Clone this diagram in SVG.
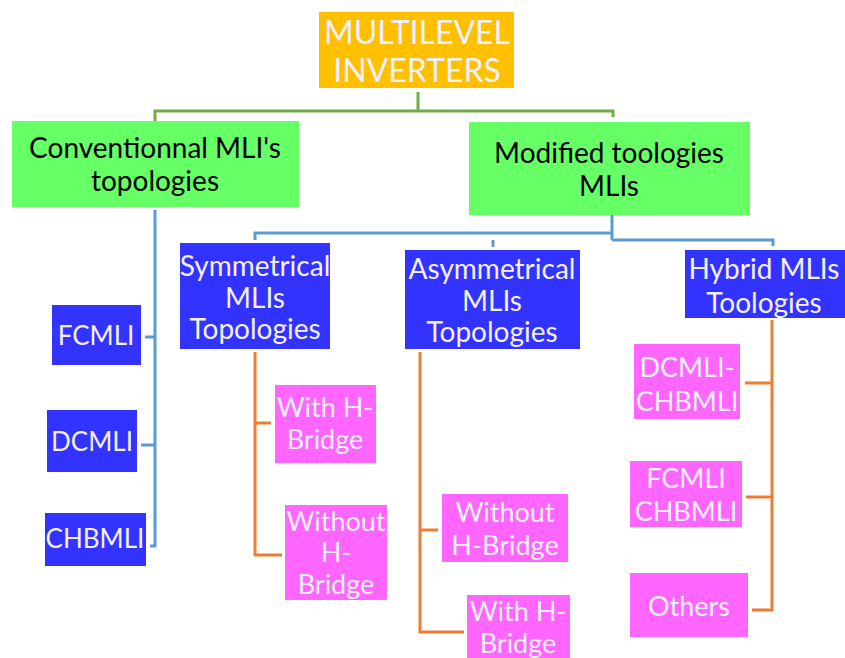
<svg xmlns="http://www.w3.org/2000/svg" width="845" height="658" viewBox="0 0 845 658">
<style>
text{font-family:Lato,"Open Sans","Liberation Sans",sans-serif;text-anchor:middle;dominant-baseline:central}
.w{fill:#F4F0FF}
.k{fill:#000}
.b{font-size:28px}
.p{font-size:27px}
.g{font-size:28px}
.gl{fill:none;stroke:#70AD47;stroke-width:3}
.bl{fill:none;stroke:#5B9BD5;stroke-width:3}
.ol{fill:none;stroke:#ED7D31;stroke-width:3}
.blue{fill:#3333FF}
.pink{fill:#FF66FF}
.green{fill:#66FF66}
</style>
<rect width="845" height="658" fill="#fff"/>
<g id="connectors">
<path class="gl" d="M418 92V111H155V122M418 111H613V117"/>
<path class="bl" d="M612 215V240M612 233H255V240M612 240H773V246M493 240V247"/>
<path class="bl" d="M155 210V546H150M155 337H145M155 445H141"/>
<path class="ol" d="M255 352V555H282M255 423H271"/>
<path class="ol" d="M420 352V632H464M420 530H438"/>
<path class="ol" d="M772 320V610H752M772 383H745M772 497H746"/>
</g>
<g id="root"><rect x="319" y="12" width="195" height="76" fill="#FFC000"/><text class="w" x="417" y="31" font-size="32">MULTILEVEL</text><text class="w" x="417" y="69" font-size="32">INVERTERS</text></g>
<g id="conv"><rect class="green" x="12" y="121" width="287" height="86"/><text class="k g" x="155" y="147">Conventionnal MLI's</text><text class="k g" x="155" y="180">topologies</text></g>
<g id="mod"><rect class="green" x="469" y="122" width="281" height="93"/><text class="k g" x="609" y="152">Modified toologies</text><text class="k g" x="609" y="185">MLIs</text></g>
<g id="fcmli"><rect class="blue" x="52" y="305" width="89" height="60"/><text class="w" x="96" y="335" font-size="26">FCMLI</text></g>
<g id="dcmli"><rect class="blue" x="47" y="410" width="90" height="62"/><text class="w" x="92" y="441" font-size="26">DCMLI</text></g>
<g id="chbmli"><rect class="blue" x="45" y="513" width="101" height="53"/><text class="w" x="95" y="538" font-size="26">CHBMLI</text></g>
<g id="sym"><rect class="blue" x="180" y="243" width="150" height="106"/><text class="w b" x="255" y="265">Symmetrical</text><text class="w b" x="255" y="297">MLIs</text><text class="w b" x="255" y="328">Topologies</text></g>
<g id="asym"><rect class="blue" x="405" y="250" width="175" height="99"/><text class="w b" x="492" y="268">Asymmetrical</text><text class="w b" x="492" y="300">MLIs</text><text class="w b" x="492" y="331">Topologies</text></g>
<g id="hybrid"><rect class="blue" x="685" y="250" width="160" height="68"/><text class="w b" x="764" y="268">Hybrid MLIs</text><text class="w b" x="764" y="302">Toologies</text></g>
<g id="sym-with"><rect class="pink" x="275" y="385" width="101" height="78"/><text class="w p" x="325" y="406">With H-</text><text class="w p" x="325" y="438">Bridge</text></g>
<g id="sym-without"><rect class="pink" x="285" y="505" width="102" height="95"/><text class="w p" x="336" y="520">Without</text><text class="w p" x="336" y="551">H-</text><text class="w p" x="336" y="583">Bridge</text></g>
<g id="asym-without"><rect class="pink" x="442" y="494" width="126" height="68"/><text class="w p" x="505" y="511">Without</text><text class="w p" x="505" y="544">H-Bridge</text></g>
<g id="asym-with"><rect class="pink" x="467" y="595" width="103" height="63"/><text class="w p" x="518" y="610">With H-</text><text class="w p" x="518" y="642">Bridge</text></g>
<g id="dc-chb"><rect class="pink" x="634" y="344" width="106" height="75"/><text class="w p" x="687" y="366">DCMLI-</text><text class="w p" x="687" y="400">CHBMLI</text></g>
<g id="fc-chb"><rect class="pink" x="630" y="461" width="112" height="66"/><text class="w p" x="686" y="477">FCMLI</text><text class="w p" x="686" y="510">CHBMLI</text></g>
<g id="others"><rect class="pink" x="630" y="573" width="118" height="64"/><text class="w p" x="689" y="605">Others</text></g>
</svg>
